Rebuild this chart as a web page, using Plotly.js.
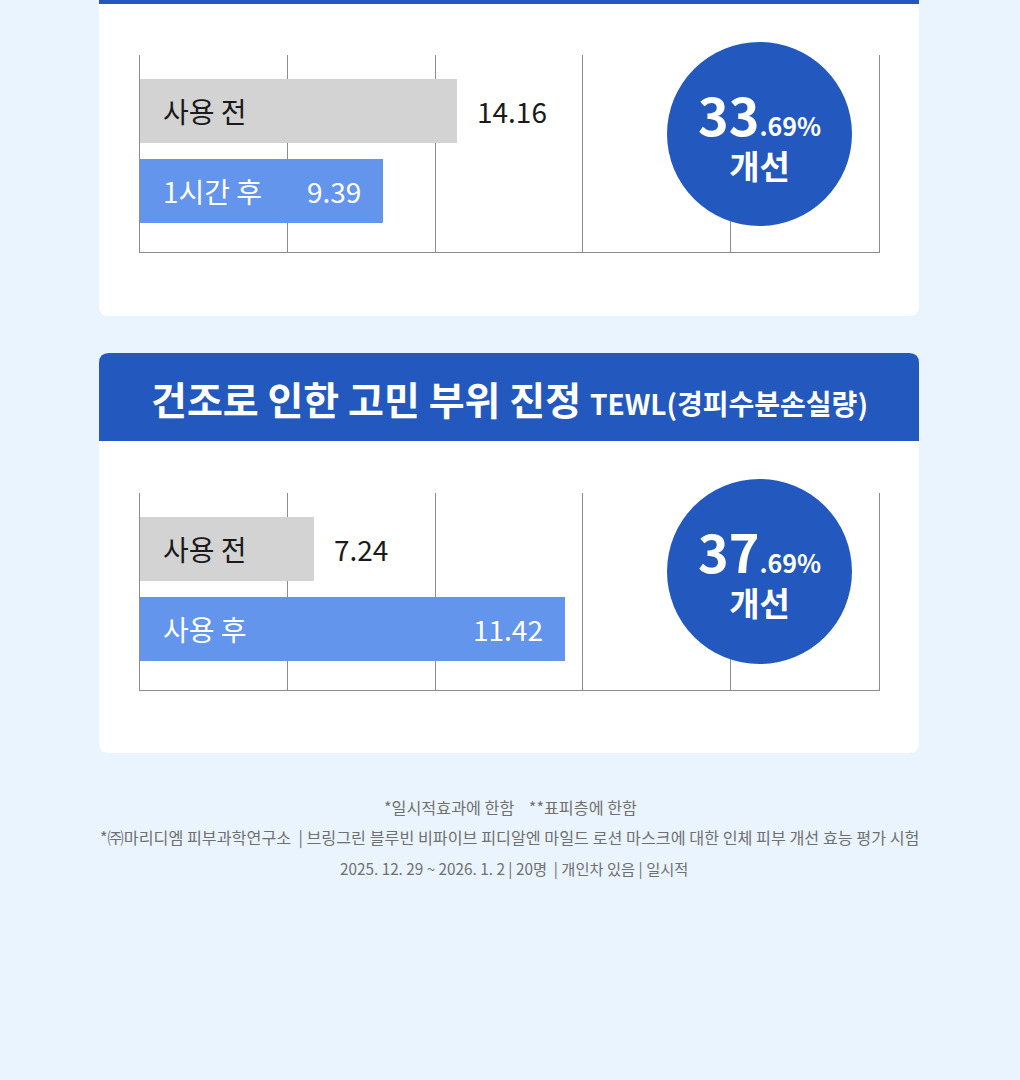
<!DOCTYPE html>
<html>
<head>
<meta charset="utf-8">
<script src="https://cdn.plot.ly/plotly-3.0.1.min.js"></script>
<style>
  html, body { margin: 0; padding: 0; background: #EAF4FE; }
  #chart { width: 1020px; height: 1080px; }
</style>
</head>
<body>
<div id="chart"></div>
<script>
// ---- data ----
const cats1 = ['사용 전', '1시간 후'];
const barLen1 = [2.15, 1.65];          // visual bar length (grid units)
const valText1 = ['14.16', '9.39'];
const improve1 = ['33', '.69%'];

const title2 = '건조로 인한 고민 부위 진정';
const subtitle2 = 'TEWL(경피수분손실량)';
const cats2 = ['사용 전', '사용 후'];
const barLen2 = [1.18, 2.88];
const valText2 = ['7.24', '11.42'];
const improve2 = ['37', '.69%'];
const improveWord = '개선';

const footLines = [
  '*일시적효과에 한함    **표피층에 한함',
  '*㈜마리디엠 피부과학연구소  | 브링그린 블루빈 비파이브 피디알엔 마일드 로션 마스크에 대한 인체 피부 개선 효능 평가 시험',
  '2025. 12. 29 ~ 2026. 1. 2 | 20명  | 개인차 있음 | 일시적'
];

// ---- styling ----
const W = 1020, H = 1080;
const X = p => p / W;
const Y = p => 1 - p / H;
const FONT = '"Noto Sans CJK KR", "Noto Sans", sans-serif';
const BLUE = '#2359BE';
const GRAY_BAR = '#D3D3D3';
const LIGHT_BLUE = '#6495EC';
const GRID = '#8c8c8c';

function roundRectPath(x0, y0, x1, y1, rTop, rBot) {
  const p = (x, y) => X(x) + ',' + Y(y);
  let d = 'M' + p(x0, y1 - rBot);
  d += ' L' + p(x0, y0 + rTop);
  if (rTop) d += ' Q' + p(x0, y0) + ' ' + p(x0 + rTop, y0);
  d += ' L' + p(x1 - rTop, y0);
  if (rTop) d += ' Q' + p(x1, y0) + ' ' + p(x1, y0 + rTop);
  d += ' L' + p(x1, y1 - rBot);
  if (rBot) d += ' Q' + p(x1, y1) + ' ' + p(x1 - rBot, y1);
  d += ' L' + p(x0 + rBot, y1);
  if (rBot) d += ' Q' + p(x0, y1) + ' ' + p(x0, y1 - rBot);
  d += ' Z';
  return d;
}

const shapes = [
  {type: 'path', xref: 'paper', yref: 'paper', path: roundRectPath(99, 0, 919, 316, 0, 10),
   fillcolor: '#FFFFFF', line: {width: 0}, layer: 'below'},
  {type: 'rect', xref: 'paper', yref: 'paper', x0: X(99), x1: X(919), y0: Y(4), y1: Y(0),
   fillcolor: BLUE, line: {width: 0}, layer: 'below'},
  {type: 'path', xref: 'paper', yref: 'paper', path: roundRectPath(99, 353, 919, 441, 10, 0),
   fillcolor: BLUE, line: {width: 0}, layer: 'below'},
  {type: 'path', xref: 'paper', yref: 'paper', path: roundRectPath(99, 441, 919, 753, 0, 10),
   fillcolor: '#FFFFFF', line: {width: 0}, layer: 'below'},
  {type: 'circle', xref: 'paper', yref: 'paper', x0: X(667), x1: X(852), y0: Y(226), y1: Y(42),
   fillcolor: BLUE, line: {width: 0}, layer: 'above'},
  {type: 'circle', xref: 'paper', yref: 'paper', x0: X(667), x1: X(852), y0: Y(664), y1: Y(479),
   fillcolor: BLUE, line: {width: 0}, layer: 'above'}
];

const traces = [
  {type: 'bar', orientation: 'h', x: barLen1, y: cats1, xaxis: 'x', yaxis: 'y',
   marker: {color: [GRAY_BAR, LIGHT_BLUE], line: {width: 0}}, width: 0.8,
   hoverinfo: 'skip', showlegend: false},
  {type: 'bar', orientation: 'h', x: barLen2, y: cats2, xaxis: 'x2', yaxis: 'y2',
   marker: {color: [GRAY_BAR, LIGHT_BLUE], line: {width: 0}}, width: 0.8,
   hoverinfo: 'skip', showlegend: false}
];

const annotations = [];
function barLabels(cats, lens, vals, xr, yr) {
  cats.forEach((c, i) => {
    const inside = i === 1;
    annotations.push({xref: xr, yref: yr, x: 0, y: c, text: c, showarrow: false,
      xanchor: 'left', yanchor: 'middle', xshift: 21,
      font: {family: FONT, size: 28, color: inside ? '#FFFFFF' : '#1a1a1a'}});
    annotations.push({xref: xr, yref: yr, x: lens[i], y: c, text: vals[i], showarrow: false,
      xanchor: inside ? 'right' : 'left', yanchor: 'middle', xshift: inside ? -20 : 18,
      font: {family: FONT, size: 28, color: inside ? '#FFFFFF' : '#1a1a1a'}});
  });
}
barLabels(cats1, barLen1, valText1, 'x', 'y');
barLabels(cats2, barLen2, valText2, 'x2', 'y2');

function circleText(imp, cy) {
  annotations.push({xref: 'paper', yref: 'paper', x: X(759), y: Y(cy - 2),
    text: '<span style="font-size:52px">' + imp[0] + '</span><span style="font-size:25px">' + imp[1] + '</span>' +
          '<br>' + improveWord,
    showarrow: false, xanchor: 'center', yanchor: 'middle', align: 'center',
    font: {family: FONT, size: 33, color: '#FFFFFF', weight: 'bold'}});
}
circleText(improve1, 134);
circleText(improve2, 571);

annotations.push({xref: 'paper', yref: 'paper', x: X(509), y: Y(398),
  text: '<span style="font-size:39px">' + title2 + '</span> <span style="font-size:28px">' + subtitle2 + '</span>',
  showarrow: false, xanchor: 'center', yanchor: 'middle',
  font: {family: FONT, size: 39, color: '#FFFFFF', weight: 'bold'}});

const footY = [807, 837, 868];
const footX = [510, 510, 514];
const footSize = [16.2, 16.2, 15.3];
footLines.forEach((t, i) => {
  annotations.push({xref: 'paper', yref: 'paper', x: X(footX[i]), y: Y(footY[i]), text: t,
    showarrow: false, xanchor: 'center', yanchor: 'middle',
    font: {family: FONT, size: footSize[i], color: '#707070'}});
});

const xBase = {range: [0, 5], dtick: 1, tick0: 0, showgrid: true, gridcolor: GRID, gridwidth: 1,
  zeroline: false, showticklabels: false, ticks: '', showline: true, linecolor: GRID, linewidth: 1,
  fixedrange: true};
const yBase = {type: 'category', range: [1.7625, -0.7], showgrid: false, zeroline: false,
  showticklabels: false, ticks: '', showline: true, mirror: true, linecolor: GRID, linewidth: 1,
  fixedrange: true};

const layout = {
  width: W, height: H,
  margin: {l: 0, r: 0, t: 0, b: 0, pad: 0},
  paper_bgcolor: '#EAF4FE',
  plot_bgcolor: 'rgba(0,0,0,0)',
  showlegend: false,
  bargap: 0,
  xaxis: Object.assign({}, xBase, {domain: [X(139.5), X(878.5)], anchor: 'y'}),
  yaxis: Object.assign({}, yBase, {domain: [Y(252), Y(55)], anchor: 'x'}),
  xaxis2: Object.assign({}, xBase, {domain: [X(139.5), X(878.5)], anchor: 'y2'}),
  yaxis2: Object.assign({}, yBase, {domain: [Y(690), Y(493)], anchor: 'x2'}),
  shapes: shapes,
  annotations: annotations,
  font: {family: FONT}
};

Plotly.newPlot('chart', traces, layout, {displayModeBar: false, staticPlot: true});
</script>
</body>
</html>
